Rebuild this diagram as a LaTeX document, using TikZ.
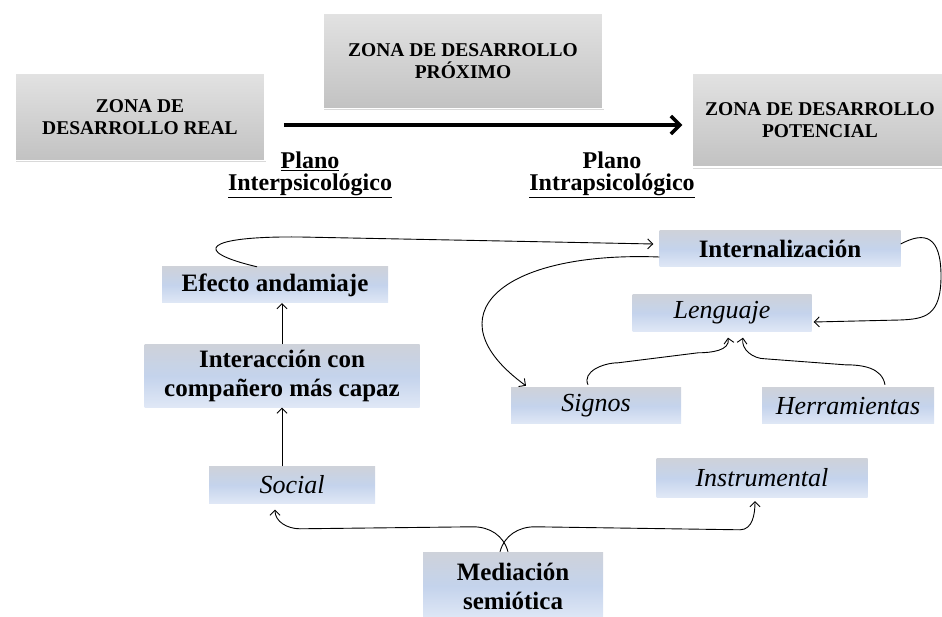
\documentclass[tikz,border=0pt]{standalone}
\usepackage{fontspec}
\setmainfont{Liberation Serif}
\usetikzlibrary{arrows.meta,shadows}
\definecolor{zonetop}{RGB}{226,226,226}
\definecolor{zonebot}{RGB}{194,194,194}
\definecolor{bluetop}{RGB}{206,210,218}
\definecolor{bluemid}{RGB}{196,211,236}
\definecolor{bluebot}{RGB}{224,232,246}
\tikzset{
    zonebox/.style={draw=white, line width=1.5pt, top color=zonetop, bottom color=zonebot,
        drop shadow={shadow xshift=0.5pt, shadow yshift=-2pt, opacity=0.3},
        align=center, inner sep=0pt, font=\fontsize{19.5}{22}\selectfont\bfseries},
    bluebox/.style={top color=bluetop, bottom color=bluebot, middle color=bluemid,
        inner sep=0pt, align=center},
    boldtext/.style={font=\fontsize{25}{29}\selectfont\bfseries},
    italtext/.style={font=\fontsize{26}{30}\selectfont\itshape},
    plano/.style={align=center, font=\fontsize{24}{22}\selectfont\bfseries},
    conn/.style={-{Straight Barb[length=5pt,width=10pt]}, line width=0.9pt},
    bigarrow/.style={-{Straight Barb[length=9pt,width=18pt]}, line width=3.5pt},
}

\begin{document}
\begin{tikzpicture}[x=1pt,y=1pt]
    \useasboundingbox (0,0) rectangle (942,616);
    % zonas
    \node[zonebox, minimum width=250, minimum height=87] (zdr) at (140,499) {ZONA DE\\DESARROLLO REAL};
    \node[zonebox, minimum width=280, minimum height=95] (zdp) at (463,555) {ZONA DE DESARROLLO\\PRÓXIMO};
    \node[zonebox, minimum width=256, minimum height=94] (zdpot) at (820,496) {ZONA DE DESARROLLO\\POTENCIAL};
    \draw[bigarrow] ([xshift=18pt,yshift=-8pt]zdr.east) -- ([xshift=-9pt,yshift=-5pt]zdpot.west);
    \node[plano] (inter) at (310,441) {\underline{Plano}\\\underline{Interpsicológico}};
    \node[plano] (intra) at (612,441) {Plano\\\underline{Intrapsicológico}};
    % cajas
    \node[bluebox, boldtext, minimum width=226, minimum height=36] (efecto) at (275,331) {Efecto andamiaje};
    \node[bluebox, boldtext, minimum width=275, minimum height=63] (interac) at (282,240) {Interacción con\\compañero más capaz};
    \node[bluebox, boldtext, minimum width=241, minimum height=36] (internal) at (780,367) {Internalización};
    \node[bluebox, italtext, minimum width=179, minimum height=37] (lenguaje) at (722,303) {Lenguaje};
    \node[bluebox, italtext, minimum width=170, minimum height=36] (signos) at (596,210) {Signos};
    \node[bluebox, italtext, minimum width=172, minimum height=36] (herram) at (848,210) {Herramientas};
    \node[bluebox, italtext, minimum width=166, minimum height=37] (social) at (292,131) {Social};
    \node[bluebox, italtext, minimum width=211, minimum height=38] (instrum) at (762,138) {Instrumental};
    \node[bluebox, boldtext, minimum width=180, minimum height=68] (mediac) at (513,30) {Mediación\\semiótica};
    % flechas
    \draw[conn] (interac.north) -- (interac.north |- efecto.south);
    \draw[conn] (interac.south |- social.north) -- (interac.south);
    \draw[conn] ([xshift=-18pt]efecto.north) .. controls (190,365) and (205,380) .. (300,379)
        -- ([xshift=-6pt,yshift=5pt]internal.west);
    \draw[conn] ([yshift=-8pt]internal.west) .. controls (500,365) and (430,300) .. ([xshift=-70pt,yshift=2pt]signos.north);
    \draw[conn] ([yshift=5pt]internal.east) .. controls (925,385) and (941,380) .. (941,340)
        .. controls (941,300) and (925,297) .. (900,296) -- ([xshift=2pt,yshift=-9pt]lenguaje.east);
    \draw[conn] ([xshift=-8pt,yshift=3pt]signos.north) to[out=115,in=180] ++(30,22) -- ++(80,10)
        to[out=0,in=-80] ([xshift=6pt,yshift=-6pt]lenguaje.south);
    \draw[conn] ([xshift=37pt,yshift=3pt]herram.north) to[out=100,in=0] ++(-40,20) -- ++(-80,6)
        to[out=180,in=-100] ([xshift=21pt,yshift=-6pt]lenguaje.south);
    \draw[conn] ([xshift=-5pt]mediac.north) to[out=105,in=0] ++(-35,25) -- ++(-173,-2)
        to[out=180,in=-90] ([xshift=-17pt,yshift=-6pt]social.south);
    \draw[conn] ([xshift=-13pt]mediac.north) to[out=75,in=180] ++(35,25) -- ++(205,-3)
        to[out=0,in=-90] ([xshift=-7pt,yshift=-4pt]instrum.south);
\end{tikzpicture}
\end{document}
